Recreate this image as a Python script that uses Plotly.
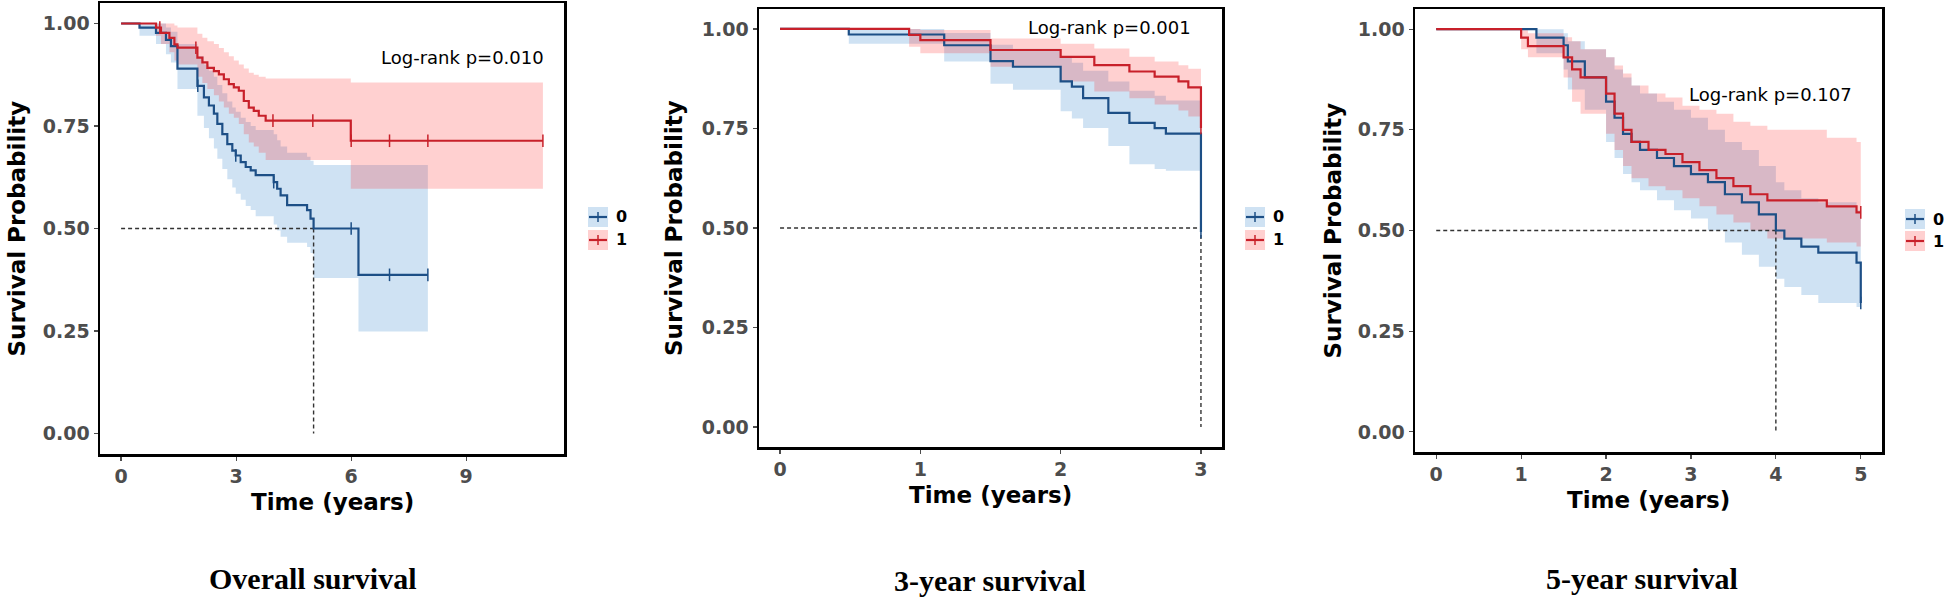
import numpy as np
import plotly.graph_objects as go

W, H = 1949, 602

# ---------------- data ----------------
# Panel 1: Overall survival
os_t0 = [0, 0.48, 0.91, 1.17, 1.30, 1.47, 1.99, 2.16, 2.29, 2.42, 2.51, 2.64, 2.77, 2.90, 2.99,
         3.12, 3.25, 3.38, 3.51, 3.98, 4.07, 4.16, 4.33, 4.85, 4.94, 5.02, 6.19, 8.0]
os_s0 = [1.0, 0.99, 0.977, 0.96, 0.945, 0.89, 0.848, 0.82, 0.80, 0.78, 0.755, 0.73, 0.706, 0.69, 0.678,
         0.662, 0.65, 0.642, 0.63, 0.613, 0.597, 0.581, 0.557, 0.545, 0.524, 0.50, 0.387, 0.387]
os_lo0 = [1.0, 0.97, 0.95, 0.925, 0.905, 0.84, 0.775, 0.745, 0.72, 0.695, 0.67, 0.645, 0.62, 0.60, 0.585,
          0.57, 0.555, 0.545, 0.53, 0.51, 0.495, 0.48, 0.465, 0.455, 0.44, 0.379, 0.249, 0.249]
os_hi0 = [1.0, 1.0, 1.0, 0.99, 0.98, 0.95, 0.92, 0.90, 0.885, 0.87, 0.85, 0.83, 0.81, 0.795, 0.785,
          0.77, 0.76, 0.75, 0.74, 0.73, 0.715, 0.70, 0.685, 0.675, 0.665, 0.655, 0.655, 0.655]
os_c0 = [2.0, 2.99, 3.98, 6.0, 7.0, 8.0]

os_t1 = [0, 0.91, 1.04, 1.26, 1.39, 1.47, 1.99, 2.12, 2.25, 2.42, 2.55, 2.68, 2.81, 2.94, 3.07,
         3.20, 3.33, 3.46, 3.59, 3.77, 5.99, 11.0]
os_s1 = [1.0, 0.99, 0.977, 0.965, 0.949, 0.941, 0.917, 0.905, 0.892, 0.884, 0.876, 0.864, 0.852, 0.844, 0.836,
         0.811, 0.795, 0.787, 0.775, 0.763, 0.714, 0.714]
os_lo1 = [1.0, 0.97, 0.95, 0.93, 0.91, 0.90, 0.87, 0.855, 0.84, 0.825, 0.81, 0.795, 0.78, 0.77, 0.755,
          0.73, 0.71, 0.70, 0.685, 0.667, 0.597, 0.597]
os_hi1 = [1.0, 1.0, 1.0, 1.0, 0.995, 0.99, 0.975, 0.965, 0.957, 0.95, 0.94, 0.93, 0.92, 0.91, 0.90,
          0.89, 0.88, 0.875, 0.87, 0.866, 0.856, 0.856]
os_c1 = [1.01, 1.95, 3.96, 5.0, 6.0, 7.0, 8.0, 11.0]

# Panel 2: 3-year survival
y3_t0 = [0, 0.49, 1.17, 1.50, 1.66, 2.0, 2.08, 2.16, 2.34, 2.49, 2.67, 2.75, 3.0]
y3_s0 = [1.0, 0.986, 0.959, 0.919, 0.905, 0.868, 0.855, 0.826, 0.789, 0.764, 0.751, 0.737, 0.49]
y3_lo0 = [1.0, 0.963, 0.918, 0.862, 0.847, 0.793, 0.775, 0.751, 0.706, 0.66, 0.648, 0.644, 0.644]
y3_hi0 = [1.0, 1.0, 0.99, 0.96, 0.95, 0.93, 0.915, 0.895, 0.868, 0.845, 0.832, 0.82, 0.82]
y3_c0 = [3.0]

y3_t1 = [0, 0.92, 1.0, 1.50, 2.0, 2.24, 2.49, 2.67, 2.84, 2.91, 3.0]
y3_s1 = [1.0, 0.985, 0.972, 0.947, 0.930, 0.909, 0.893, 0.880, 0.868, 0.853, 0.751]
y3_lo1 = [1.0, 0.955, 0.939, 0.905, 0.868, 0.843, 0.826, 0.81, 0.795, 0.78, 0.78]
y3_hi1 = [1.0, 1.0, 0.997, 0.976, 0.963, 0.951, 0.93, 0.918, 0.909, 0.90, 0.90]
y3_c1 = [3.0]

# Panel 3: 5-year survival
y5_t0 = [0, 1.18, 1.5, 1.55, 1.75, 2.0, 2.1, 2.2, 2.3, 2.4, 2.6, 2.8, 3.0, 3.2, 3.4, 3.6, 3.8,
         4.0, 4.1, 4.3, 4.5, 4.95, 5.0]
y5_s0 = [1.0, 0.979, 0.96, 0.92, 0.88, 0.82, 0.78, 0.74, 0.72, 0.70, 0.68, 0.66, 0.64, 0.62, 0.59, 0.57, 0.54,
         0.50, 0.48, 0.46, 0.445, 0.42, 0.32]
y5_lo0 = [1.0, 0.94, 0.90, 0.85, 0.80, 0.72, 0.68, 0.64, 0.62, 0.60, 0.575, 0.55, 0.53, 0.50, 0.47, 0.44, 0.41,
          0.38, 0.36, 0.34, 0.32, 0.31, 0.31]
y5_hi0 = [1.0, 1.0, 0.99, 0.97, 0.95, 0.93, 0.90, 0.88, 0.86, 0.84, 0.82, 0.80, 0.78, 0.75, 0.72, 0.70, 0.66,
          0.62, 0.60, 0.58, 0.57, 0.55, 0.55]
y5_c0 = [5.0]

y5_t1 = [0, 1.0, 1.08, 1.5, 1.6, 1.7, 2.0, 2.1, 2.2, 2.3, 2.5, 2.7, 2.9, 3.1, 3.3, 3.5, 3.7, 3.9, 4.6,
         4.95, 5.0]
y5_s1 = [1.0, 0.979, 0.958, 0.93, 0.90, 0.88, 0.84, 0.79, 0.75, 0.72, 0.70, 0.69, 0.67, 0.65, 0.63, 0.61, 0.59,
         0.575, 0.56, 0.545, 0.545]
y5_lo1 = [1.0, 0.95, 0.93, 0.88, 0.82, 0.79, 0.74, 0.70, 0.66, 0.63, 0.61, 0.60, 0.58, 0.56, 0.54, 0.52, 0.50,
          0.48, 0.47, 0.46, 0.46]
y5_hi1 = [1.0, 1.0, 0.99, 0.98, 0.97, 0.95, 0.93, 0.91, 0.89, 0.86, 0.84, 0.83, 0.81, 0.80, 0.79, 0.77, 0.76,
          0.75, 0.73, 0.72, 0.72]
y5_c1 = [5.0]

captions = ["Overall survival", "3-year survival", "5-year survival"]
pvalues = ["Log-rank p=0.010", "Log-rank p=0.001", "Log-rank p=0.107"]
group_labels = ["0", "1"]
x_ticks = [[0, 3, 6, 9], [0, 1, 2, 3], [0, 1, 2, 3, 4, 5]]
y_ticks = [0, 0.25, 0.5, 0.75, 1.0]

panels = [
    dict(g0=(os_t0, os_s0, os_lo0, os_hi0, os_c0), g1=(os_t1, os_s1, os_lo1, os_hi1, os_c1), xmax=11),
    dict(g0=(y3_t0, y3_s0, y3_lo0, y3_hi0, y3_c0), g1=(y3_t1, y3_s1, y3_lo1, y3_hi1, y3_c1), xmax=3),
    dict(g0=(y5_t0, y5_s0, y5_lo0, y5_hi0, y5_c0), g1=(y5_t1, y5_s1, y5_lo1, y5_hi1, y5_c1), xmax=5),
]

# ---------------- styling / layout ----------------
BLUE = "#1d4f86"
RED = "#c8202a"
BLUE_FILL = "rgba(15,110,195,0.20)"
RED_FILL = "rgba(255,20,20,0.20)"
BLUE_LEG = "#cfe2f3"
RED_LEG = "#ffd0d0"

# plot areas in pixels: (left, right, top, bottom)
boxes = [(100, 564, 3, 454), (759, 1222, 9, 447), (1415, 1882, 9, 452)]
ytitle_x = [16, 674, 1332]
legend_left = [588, 1245, 1905]
legend_rows = [(217, 240), (217, 240), (219, 241)]
pval_right = [546, 1193, 1854]
pval_y = [57, 28, 94]
caption_x = [312, 990, 1642]
caption_y = [578, 580, 578]


def PX(px):
    return px / W


def PY(py):
    return 1 - py / H


fig = go.Figure()
shapes = []
annotations = []


def step_value(t, s, c):
    t = np.asarray(t)
    idx = np.searchsorted(t, c, side="right") - 1
    return float(np.asarray(s)[idx])


for i, p in enumerate(panels):
    n = "" if i == 0 else str(i + 1)
    xa, ya = "x" + n, "y" + n
    groups = [(p["g0"], BLUE, BLUE_FILL), (p["g1"], RED, RED_FILL)]
    # CI bands
    for (t, s, lo, hi, c), col, fcol in groups:
        fig.add_trace(go.Scatter(x=t, y=lo, xaxis=xa, yaxis=ya, mode="lines",
                                 line=dict(width=0, shape="hv"), hoverinfo="skip", showlegend=False))
        fig.add_trace(go.Scatter(x=t, y=hi, xaxis=xa, yaxis=ya, mode="lines", fill="tonexty",
                                 fillcolor=fcol, line=dict(width=0, shape="hv"),
                                 hoverinfo="skip", showlegend=False))
    # median dashed lines
    t0, s0 = np.asarray(p["g0"][0]), np.asarray(p["g0"][1])
    med = float(t0[np.argmax(s0 <= 0.5)])
    fig.add_trace(go.Scatter(x=[0, med, None, med, med], y=[0.5, 0.5, None, 0.5, 0.0],
                             xaxis=xa, yaxis=ya, mode="lines",
                             line=dict(color="#333333", width=1.4, dash="4px,3px"),
                             hoverinfo="skip", showlegend=False))
    # survival curves
    for (t, s, lo, hi, c), col, fcol in groups:
        fig.add_trace(go.Scatter(x=t, y=s, xaxis=xa, yaxis=ya, mode="lines",
                                 line=dict(color=col, width=2.2, shape="hv"), showlegend=False))
        cy = [step_value(t, s, ci) for ci in c]
        fig.add_trace(go.Scatter(x=c, y=cy, xaxis=xa, yaxis=ya, mode="markers",
                                 marker=dict(symbol="line-ns", size=9, color=col,
                                             line=dict(color=col, width=1.5)),
                                 showlegend=False))

    L, R, T, B = boxes[i]
    xmax = p["xmax"]
    pad = 0.05 * xmax
    axis_common = dict(showline=True, mirror=True, linecolor="black", linewidth=2.5,
                       showgrid=False, zeroline=False, ticks="outside", ticklen=4,
                       tickwidth=1.2, tickcolor="#4d4d4d",
                       tickfont=dict(family="DejaVu Sans", size=19, color="#4d4d4d", weight="bold"))
    fig.update_layout(**{
        "xaxis" + n: dict(domain=[PX(L), PX(R)], range=[-pad, xmax + pad], tickvals=x_ticks[i],
                          anchor=ya, **axis_common),
        "yaxis" + n: dict(domain=[PY(B), PY(T)], range=[-0.05, 1.05], tickvals=y_ticks,
                          tickformat=".2f", anchor=xa, **axis_common),
    })

    # axis titles
    annotations.append(dict(x=PX(ytitle_x[i]), y=PY((T + B) / 2), xref="paper", yref="paper",
                            text="Survival Probability", textangle=-90, showarrow=False,
                            font=dict(family="DejaVu Sans", size=23, color="black", weight="bold"),
                            xanchor="center", yanchor="middle"))
    annotations.append(dict(x=PX((L + R) / 2), y=PY(B + 48), xref="paper", yref="paper",
                            text="Time (years)", showarrow=False,
                            font=dict(family="DejaVu Sans", size=23, color="black", weight="bold"),
                            xanchor="center", yanchor="middle"))
    # p-value
    annotations.append(dict(x=PX(pval_right[i]), y=PY(pval_y[i]), xref="paper", yref="paper",
                            text=pvalues[i], showarrow=False,
                            font=dict(family="DejaVu Sans", size=18, color="black"),
                            xanchor="right", yanchor="middle"))
    # caption
    annotations.append(dict(x=PX(caption_x[i]), y=PY(caption_y[i]), xref="paper", yref="paper",
                            text=captions[i], showarrow=False,
                            font=dict(family="Liberation Serif", size=30, color="black", weight="bold"),
                            xanchor="center", yanchor="middle"))
    # legend
    lx = legend_left[i]
    for (yc, lab, lcol, bcol) in zip(legend_rows[i], group_labels, [BLUE, RED], [BLUE_LEG, RED_LEG]):
        shapes.append(dict(type="rect", xref="paper", yref="paper", x0=PX(lx), x1=PX(lx + 20),
                           y0=PY(yc + 10), y1=PY(yc - 10), fillcolor=bcol, line=dict(width=0), layer="below"))
        shapes.append(dict(type="line", xref="paper", yref="paper", x0=PX(lx + 1), x1=PX(lx + 19),
                           y0=PY(yc), y1=PY(yc), line=dict(color=lcol, width=2.2)))
        shapes.append(dict(type="line", xref="paper", yref="paper", x0=PX(lx + 10), x1=PX(lx + 10),
                           y0=PY(yc - 5), y1=PY(yc + 5), line=dict(color=lcol, width=1.5)))
        annotations.append(dict(x=PX(lx + 33), y=PY(yc), xref="paper", yref="paper", text=lab,
                                showarrow=False, xanchor="center", yanchor="middle",
                                font=dict(family="DejaVu Sans", size=16, color="black", weight="bold")))

fig.update_layout(width=W, height=H, autosize=False, margin=dict(l=0, r=0, t=0, b=0),
                  paper_bgcolor="white", plot_bgcolor="white", showlegend=False,
                  shapes=shapes, annotations=annotations)

fig.write_html("out.html", config={"displayModeBar": False, "staticPlot": True},
               post_script="document.body.style.margin='0px';document.body.style.overflow='hidden';")
